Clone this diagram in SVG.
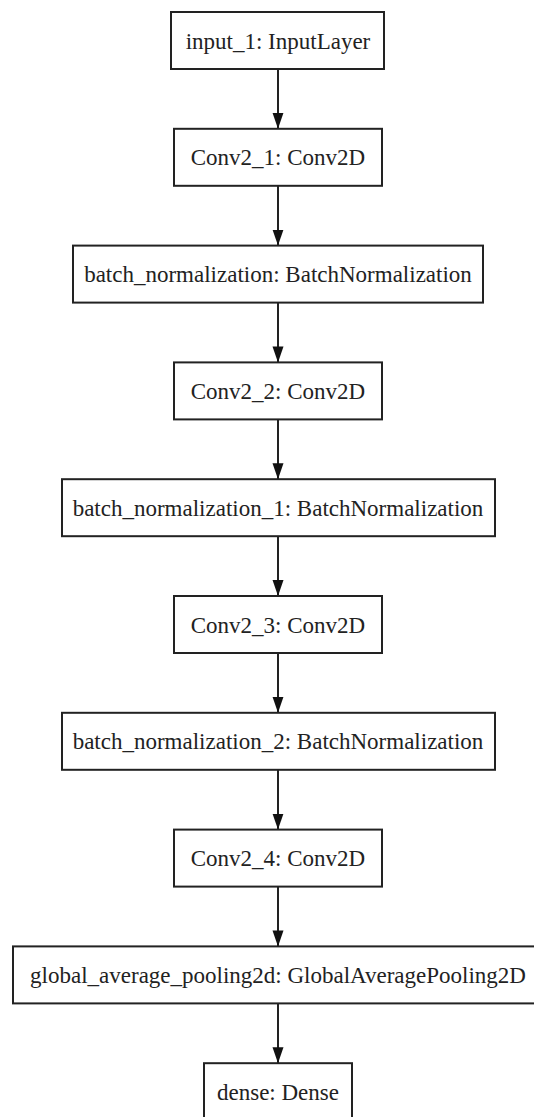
<svg xmlns="http://www.w3.org/2000/svg" width="534" height="1117" viewBox="0 0 534 1117">
  <style>
    .box { fill: #fff; stroke: #222; stroke-width: 2; }
    .lbl { font-size: 23px; fill: #222; text-anchor: middle; }
    .edge { stroke: #222; stroke-width: 2; fill: none; }
  </style>
  <defs>
    <marker id="arrow" markerUnits="userSpaceOnUse" markerWidth="17" markerHeight="12" refX="16" refY="6" orient="auto" viewBox="0 0 17 12">
      <path d="M0,0.5 L16,6 L0,11.5 Z" fill="#111"/>
    </marker>
  </defs>
  <rect width="534" height="1117" fill="#fff"/>

  <g id="connectors">
    <line class="edge" x1="278" y1="69" x2="278" y2="128.8" marker-end="url(#arrow)"/>
    <line class="edge" x1="278" y1="185.8" x2="278" y2="245.6" marker-end="url(#arrow)"/>
    <line class="edge" x1="278" y1="302.6" x2="278" y2="362.4" marker-end="url(#arrow)"/>
    <line class="edge" x1="278" y1="419.4" x2="278" y2="479.2" marker-end="url(#arrow)"/>
    <line class="edge" x1="278" y1="536.2" x2="278" y2="596" marker-end="url(#arrow)"/>
    <line class="edge" x1="278" y1="653" x2="278" y2="712.8" marker-end="url(#arrow)"/>
    <line class="edge" x1="278" y1="769.8" x2="278" y2="829.6" marker-end="url(#arrow)"/>
    <line class="edge" x1="278" y1="886.6" x2="278" y2="946.4" marker-end="url(#arrow)"/>
    <line class="edge" x1="278" y1="1003.4" x2="278" y2="1063.2" marker-end="url(#arrow)"/>
  </g>

  <g font-family="'Liberation Serif', 'Times New Roman', serif">
    <g id="input_1">
      <rect class="box" x="171" y="12" width="213" height="57"/>
      <text class="lbl" x="278" y="48.5">input_1: InputLayer</text>
    </g>
    <g id="conv2_1">
      <rect class="box" x="174" y="128.8" width="208" height="57"/>
      <text class="lbl" x="278" y="165.3">Conv2_1: Conv2D</text>
    </g>
    <g id="batch_normalization">
      <rect class="box" x="73" y="245.6" width="410" height="57"/>
      <text class="lbl" x="278" y="282.1">batch_normalization: BatchNormalization</text>
    </g>
    <g id="conv2_2">
      <rect class="box" x="174" y="362.4" width="208" height="57"/>
      <text class="lbl" x="278" y="398.9">Conv2_2: Conv2D</text>
    </g>
    <g id="batch_normalization_1">
      <rect class="box" x="62" y="479.2" width="433" height="57"/>
      <text class="lbl" x="278" y="515.7">batch_normalization_1: BatchNormalization</text>
    </g>
    <g id="conv2_3">
      <rect class="box" x="174" y="596" width="208" height="57"/>
      <text class="lbl" x="278" y="632.5">Conv2_3: Conv2D</text>
    </g>
    <g id="batch_normalization_2">
      <rect class="box" x="62" y="712.8" width="433" height="57"/>
      <text class="lbl" x="278" y="749.3">batch_normalization_2: BatchNormalization</text>
    </g>
    <g id="conv2_4">
      <rect class="box" x="174" y="829.6" width="208" height="57"/>
      <text class="lbl" x="278" y="866.1">Conv2_4: Conv2D</text>
    </g>
    <g id="global_average_pooling2d">
      <rect class="box" x="13" y="946.4" width="530" height="57"/>
      <text class="lbl" x="278" y="982.9">global_average_pooling2d: GlobalAveragePooling2D</text>
    </g>
    <g id="dense">
      <rect class="box" x="204" y="1063.2" width="148" height="57"/>
      <text class="lbl" x="278" y="1099.7">dense: Dense</text>
    </g>
  </g>
</svg>
